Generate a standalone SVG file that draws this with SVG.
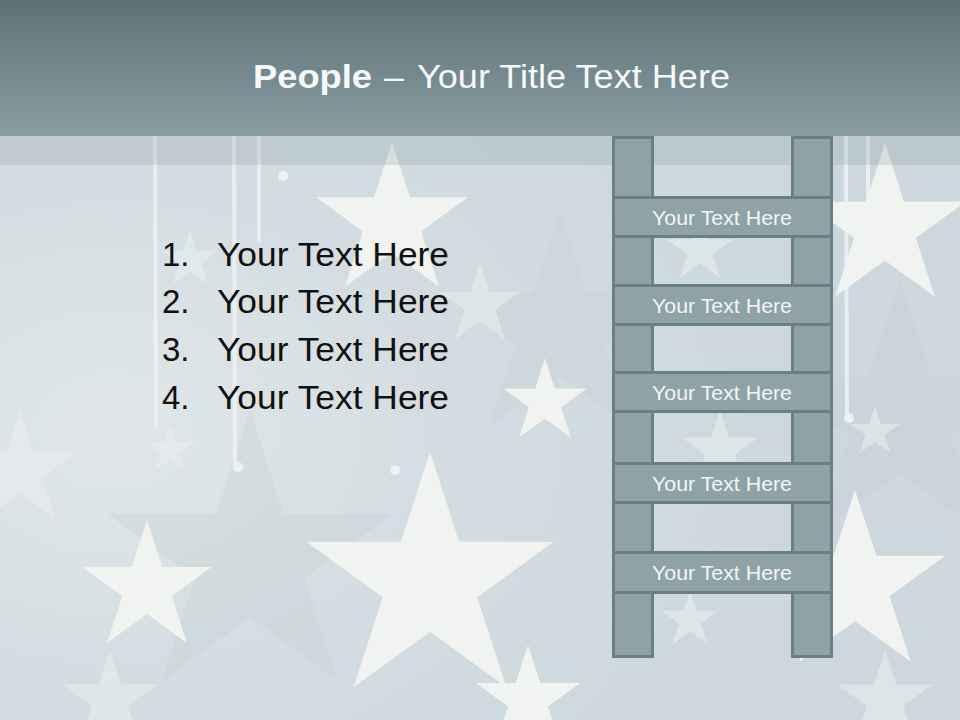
<svg xmlns="http://www.w3.org/2000/svg" xmlns:xlink="http://www.w3.org/1999/xlink" width="960" height="720" viewBox="0 0 960 720">
<defs>
  <linearGradient id="hdr" x1="0" y1="0" x2="0" y2="1">
    <stop offset="0" stop-color="#5d7277"/>
    <stop offset="1" stop-color="#889ca1"/>
  </linearGradient>
  <radialGradient id="bgl" cx="0.12" cy="0.6" r="0.7">
    <stop offset="0" stop-color="#e1e7e9"/>
    <stop offset="0.5" stop-color="#d3dde1"/>
    <stop offset="1" stop-color="#ccd8dd"/>
  </radialGradient>
  <path id="star" d="M0,-1 L0.2245,-0.309 L0.9511,-0.309 L0.3633,0.118 L0.5878,0.809 L0,0.382 L-0.5878,0.809 L-0.3633,0.118 L-0.9511,-0.309 L-0.2245,-0.309 Z"/>
  <style>
    .st { fill: #f1f3f0; }
    .stf { fill: #e9eeee; opacity: 0.6; }
    .std { fill: #c4d0d5; opacity: 0.35; }
    .drip { stroke: #eef2f2; stroke-width: 4; stroke-linecap: round; opacity: 0.85; fill: none; }
    .rail { fill: #8fa3a7; stroke: #6b7f84; stroke-width: 3; }
    .rung { fill: #8fa3a7; stroke: #6b7f84; stroke-width: 3; }
    .rl { font-family: "Liberation Sans", Arial, sans-serif; font-size: 20px; fill: #f2f5f5; text-anchor: middle; }
    .li { font-family: "Liberation Sans", Arial, sans-serif; font-size: 33px; fill: #111111; }
    .ttl { font-family: "Liberation Sans", Arial, sans-serif; font-size: 34px; fill: #f7f9f9; }
  </style>
</defs>

<!-- background -->
<rect x="0" y="0" width="960" height="720" fill="url(#bgl)"/>
<g id="background-stars">
  <use href="#star" class="std" transform="translate(250,560) scale(150)"/>
  <use href="#star" class="std" transform="translate(900,420) scale(140)"/>
  <use href="#star" class="std" transform="translate(560,330) scale(120)"/>
  <use href="#star" class="st" transform="translate(392,222) scale(80)"/>
  <use href="#star" class="stf" transform="translate(480,305) scale(42)"/>
  <use href="#star" class="st" transform="translate(545,402) scale(44)"/>
  <use href="#star" class="stf" transform="translate(190,260) scale(30)"/>
  <use href="#star" class="st" transform="translate(430,582) scale(130)"/>
  <use href="#star" class="st" transform="translate(147,588) scale(68)"/>
  <use href="#star" class="stf" transform="translate(110,700) scale(50)"/>
  <use href="#star" class="stf" transform="translate(20,470) scale(60)"/>
  <use href="#star" class="stf" transform="translate(170,450) scale(25)"/>
  <use href="#star" class="st" transform="translate(528,700) scale(55)"/>
  <use href="#star" class="st" transform="translate(885,228) scale(85)"/>
  <use href="#star" class="stf" transform="translate(875,432) scale(26)"/>
  <use href="#star" class="st" transform="translate(855,585) scale(95)"/>
  <use href="#star" class="stf" transform="translate(885,700) scale(50)"/>
  <use href="#star" class="stf" transform="translate(720,450) scale(40)"/>
  <use href="#star" class="stf" transform="translate(700,250) scale(35)"/>
  <use href="#star" class="stf" transform="translate(690,620) scale(30)"/>
</g>
<g id="drips">
  <line class="drip" x1="155" y1="136" x2="156" y2="425"/>
  <line class="drip" x1="234" y1="136" x2="235" y2="465"/>
  <line class="drip" x1="259" y1="136" x2="259" y2="240"/>
  <line class="drip" x1="846" y1="136" x2="847" y2="415"/>
  <line class="drip" x1="868" y1="136" x2="868" y2="230"/>
  <circle cx="283" cy="176" r="5" fill="#eef2f2"/>
  <circle cx="238" cy="467" r="5" fill="#eef2f2"/>
  <circle cx="395" cy="470" r="5" fill="#eef2f2"/>
  <circle cx="849" cy="418" r="5" fill="#eef2f2"/>
</g>

<!-- header -->
<g id="header">
  <rect x="0" y="0" width="960" height="136" fill="url(#hdr)"/>
  <rect x="0" y="136" width="960" height="29" fill="#7f959b" opacity="0.22"/>
  <text class="ttl" y="88"><tspan x="253" font-weight="bold" textLength="119" lengthAdjust="spacingAndGlyphs">People</tspan><tspan x="384" textLength="20" lengthAdjust="spacingAndGlyphs">–</tspan><tspan x="417" textLength="313" lengthAdjust="spacingAndGlyphs">Your Title Text Here</tspan></text>
</g>

<!-- list -->
<g id="list">
  <g id="item1"><text class="li" x="162" y="266">1.</text><text class="li" x="217" y="266" textLength="232" lengthAdjust="spacingAndGlyphs">Your Text Here</text></g>
  <g id="item2"><text class="li" x="162" y="313">2.</text><text class="li" x="217" y="313" textLength="232" lengthAdjust="spacingAndGlyphs">Your Text Here</text></g>
  <g id="item3"><text class="li" x="162" y="361">3.</text><text class="li" x="217" y="361" textLength="232" lengthAdjust="spacingAndGlyphs">Your Text Here</text></g>
  <g id="item4"><text class="li" x="162" y="409">4.</text><text class="li" x="217" y="409" textLength="232" lengthAdjust="spacingAndGlyphs">Your Text Here</text></g>
</g>

<!-- ladder -->
<g id="rails">
  <rect class="rail" x="613.5" y="137.5" width="39" height="519"/>
  <rect class="rail" x="792.5" y="137.5" width="39" height="519"/>
</g>
<g id="rung1"><rect class="rung" x="613.5" y="197.5" width="218" height="39"/><text class="rl" x="722" y="225" textLength="140" lengthAdjust="spacingAndGlyphs">Your Text Here</text></g>
<g id="rung2"><rect class="rung" x="613.5" y="285.5" width="218" height="39"/><text class="rl" x="722" y="313" textLength="140" lengthAdjust="spacingAndGlyphs">Your Text Here</text></g>
<g id="rung3"><rect class="rung" x="613.5" y="372.5" width="218" height="39"/><text class="rl" x="722" y="400" textLength="140" lengthAdjust="spacingAndGlyphs">Your Text Here</text></g>
<g id="rung4"><rect class="rung" x="613.5" y="463.5" width="218" height="39"/><text class="rl" x="722" y="491" textLength="140" lengthAdjust="spacingAndGlyphs">Your Text Here</text></g>
<g id="rung5"><rect class="rung" x="613.5" y="552.5" width="218" height="40"/><text class="rl" x="722" y="580" textLength="140" lengthAdjust="spacingAndGlyphs">Your Text Here</text></g>
</svg>
